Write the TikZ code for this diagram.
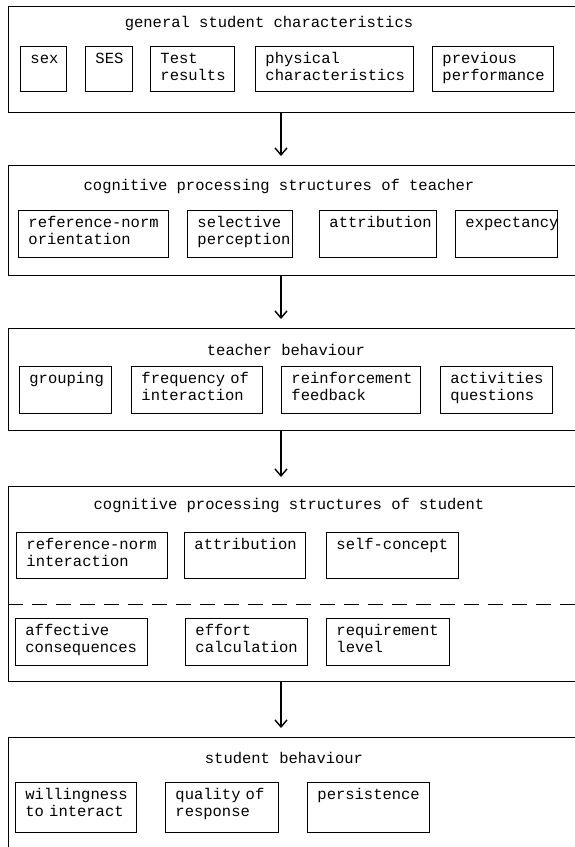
\documentclass[tikz,border=0pt]{standalone}
\usepackage{fontspec}
\setmonofont{Liberation Mono}
\usetikzlibrary{arrows.meta}

\begin{document}
\begin{tikzpicture}[x=1pt,y=-1pt,
  every node/.style={font=\ttfamily\fontsize{15.5}{17}\selectfont},
  panel/.style={draw,line width=1.1pt,anchor=north west,minimum width=600pt,inner sep=0pt},
  factor/.style={draw,line width=0.9pt,anchor=north west,align=left,inner xsep=10pt,inner ysep=0pt,text height=17pt,text depth=#1},
  heading/.style={anchor=base},
  flow/.style={-{Straight Barb[length=7pt,width=12pt,line width=1.4pt]},line width=1.1pt,shorten >=9pt}]
  \useasboundingbox (0,0) rectangle (575,847);
  \clip (0,0) rectangle (575,847);

  \node[panel,minimum height=106pt] (gsc) at (8,6) {};
  \node[heading] (gsct) at (269,27) {general student characteristics};
  \node[factor=28pt,text width=26pt] (sex) at (20,46) {sex};
  \node[factor=28pt,text width=27pt] (ses) at (85,46) {SES};
  \node[factor=28pt,text width=64pt] (test) at (150,46) {Test\\results};
  \node[factor=28pt,text width=138pt] (phys) at (255,46) {physical\\characteristics};
  \node[factor=28pt,text width=101pt] (prev) at (432,46) {previous\\performance};

  \node[panel,minimum height=110pt] (cpt) at (8,165) {};
  \node[heading] (cptt) at (279,190) {cognitive processing structures of teacher};
  \node[factor=30pt,text width=130pt] (trefn) at (18,210) {reference-norm\\orientation};
  \node[factor=30pt,text width=85pt] (tsel) at (187,210) {selective\\perception};
  \node[factor=30pt,text width=97pt] (tattr) at (319,210) {attribution};
  \node[factor=30pt,text width=82pt] (texp) at (455,210) {expectancy};

  \node[panel,minimum height=102pt] (tb) at (8,328) {};
  \node[heading] (tbt) at (286,355) {teacher behaviour};
  \node[factor=30pt,text width=72pt] (group) at (19,366) {grouping};
  \node[factor=30pt,text width=111pt] (freq) at (131,366) {frequency of\\interaction};
  \node[factor=30pt,text width=119pt] (reinf) at (281,366) {reinforcement\\feedback};
  \node[factor=30pt,text width=92pt] (activ) at (440,366) {activities\\questions};

  \node[panel,minimum height=195pt] (cps) at (8,486) {};
  \node[heading] (cpst) at (289,509) {cognitive processing structures of student};
  \node[factor=29pt,text width=131pt] (srefn) at (16,532) {reference-norm\\interaction};
  \node[factor=29pt,text width=101pt] (sattr) at (184,532) {attribution};
  \node[factor=29pt,text width=112pt] (self) at (326,532) {self-concept};
  \coordinate (split) at (0,604);
  \draw[dashed,dash pattern=on 15pt off 9pt,line width=1pt] (cps.west |- split) -- (cps.east |- split);
  \node[factor=30pt,text width=112pt] (affect) at (15,618) {affective\\consequences};
  \node[factor=30pt,text width=102pt] (effort) at (185,618) {effort\\calculation};
  \node[factor=30pt,text width=103pt] (requ) at (326,618) {requirement\\level};

  \node[panel,minimum height=163pt] (sb) at (8,737) {};
  \node[heading] (sbt) at (284,763) {student behaviour};
  \node[factor=33pt,text width=101pt] (will) at (15,782) {willingness\\to interact};
  \node[factor=33pt,text width=93pt] (qual) at (165,782) {quality of\\response};
  \node[factor=33pt,text width=102pt] (pers) at (307,782) {persistence};

  \coordinate (axis) at (281,0);
  \draw[flow] (gsc.south -| axis) -- (cpt.north -| axis);
  \draw[flow] (cpt.south -| axis) -- (tb.north -| axis);
  \draw[flow] (tb.south -| axis) -- (cps.north -| axis);
  \draw[flow] (cps.south -| axis) -- (sb.north -| axis);
\end{tikzpicture}
\end{document}
